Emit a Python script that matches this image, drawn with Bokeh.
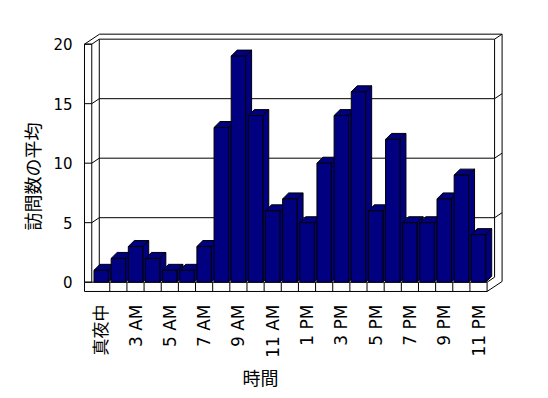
import math
from bokeh.plotting import figure
from bokeh.models import Range1d, FixedTicker, Title
from bokeh.embed import file_html
from bokeh.resources import INLINE

# ---- data ----
categories = ["真夜中", "1 AM", "3 AM", "4 AM", "5 AM", "6 AM", "7 AM", "8 AM", "9 AM",
              "10 AM", "11 AM", "正午", "1 PM", "2 PM", "3 PM", "4 PM", "5 PM", "6 PM",
              "7 PM", "8 PM", "9 PM", "10 PM", "11 PM"]
values = [1, 2, 3, 2, 1, 1, 3, 13, 19, 14, 6, 7, 5, 10, 14, 16, 6, 12, 5, 5, 7, 9, 4]
y_ticks = [0, 5, 10, 15, 20]
x_title = "時間"
y_title = "訪問数の平均"

# ---- geometry (data units) ----
N = len(categories)
YMAX = y_ticks[-1]
DX, DY = 0.875, 0.84          # full depth of the box
BDX, BDY = 0.35, 0.5          # depth of each bar
HW = 0.42                     # half width of bar front
XL0, XL1 = -0.974, -0.55      # left wall slab
XR = N - 0.5                  # right end of floor
FB = -0.78                    # floor bottom

def P(x, v, z):
    return (x + z * DX, v + z * DY)

p = figure(width=548, height=398, x_range=Range1d(-1.0904, 23.574),
           y_range=Range1d(-1.034, 20.98), output_backend="svg",
           toolbar_location=None, min_border_left=82, min_border_right=43,
           min_border_top=32, min_border_bottom=104)
p.xgrid.visible = False
p.ygrid.visible = False
p.outline_line_color = None
p.background_fill_color = "white"
p.border_fill_color = "white"

xs, ys = [], []
def add(pts, closed=False):
    if closed:
        pts = pts + [pts[0]]
    xs.append([q[0] for q in pts])
    ys.append([q[1] for q in pts])

# top of walls
add([P(XL0, YMAX, 0), P(XL1, YMAX, 0), P(XL1, YMAX, .5), P(XR, YMAX, .5),
     P(XR, YMAX, 1), P(XL0, YMAX, 1)], closed=True)
# left wall front face
add([P(XL0, 0, 0), P(XL1, 0, 0), P(XL1, YMAX, 0), P(XL0, YMAX, 0)], closed=True)
# left wall inner back edge / back wall right edges
add([P(XL1, 0, .5), P(XL1, YMAX, .5)])
add([P(XR, 0, .5), P(XR, YMAX, .5)])
add([P(XR, FB, 1), P(XR, YMAX, 1)])
# floor
add([P(XL0, FB, 0), P(XR, FB, 0), P(XR, 0, 0), P(XL0, 0, 0)], closed=True)
add([P(XR, FB, 0), P(XR, FB, 1)])
add([P(XR, 0, 0), P(XR, 0, .5)])
for k in range(N - 1):
    add([P(k + 0.5, FB, 0), P(k + 0.5, 0, 0)])
# gridlines
for v in y_ticks[1:-1]:
    add([P(XL0, v, 0), P(XL1, v, 0), P(XL1, v, .5), P(XR, v, .5), P(XR, v, 1)])

p.multi_line(xs, ys, line_color="black", line_width=1)

# bars
bx, by = [], []
for k, v in enumerate(values):
    l, r = k - HW, k + HW
    bx.append([r, r + BDX, r + BDX, r]); by.append([0, BDY, v + BDY, v])
    bx.append([l, r, r + BDX, l + BDX]); by.append([v, v, v + BDY, v + BDY])
    bx.append([l, r, r, l]); by.append([0, 0, v, v])
p.patches(bx, by, fill_color="#000080", line_color="black", line_width=1)

FONT = "DejaVu Sans, Noto Sans CJK JP"
# y axis
ya = p.yaxis[0]
ya.ticker = FixedTicker(ticks=y_ticks)
ya.axis_line_color = None
ya.major_tick_line_color = None
ya.minor_tick_line_color = None
ya.major_label_text_font = FONT
ya.major_label_text_font_size = "15px"
ya.major_label_text_color = "black"
ya.major_label_standoff = 4

# x axis
xa = p.xaxis[0]
xa.ticker = FixedTicker(ticks=list(range(0, N, 2)))
xa.major_label_overrides = {k: categories[k] for k in range(0, N, 2)}
xa.major_label_orientation = math.pi / 2
xa.axis_line_color = None
xa.major_tick_line_color = None
xa.minor_tick_line_color = None
xa.major_label_text_font = FONT
xa.major_label_text_font_size = "17px"
xa.major_label_text_color = "black"
xa.major_label_standoff = 4

p.add_layout(Title(text=x_title, align="left", offset=160, standoff=3,
                   text_font="Noto Sans CJK JP", text_font_size="18px",
                   text_font_style="normal", text_color="black"), "below")
p.add_layout(Title(text=y_title, align="left", offset=64, standoff=11,
                   text_font="Noto Sans CJK JP", text_font_size="18px",
                   text_font_style="normal", text_color="black"), "left")

open("out.html", "w").write(file_html(p, INLINE))
